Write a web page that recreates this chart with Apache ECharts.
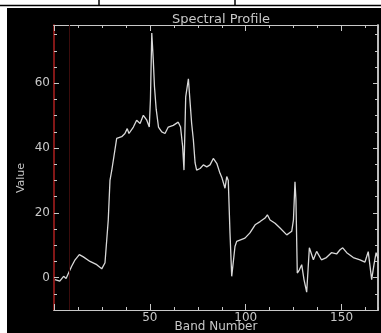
<!DOCTYPE html>
<html>
<head>
<meta charset="utf-8">
<script src="https://cdn.jsdelivr.net/npm/echarts@6/dist/echarts.min.js"></script>
<style>
  html, body { margin: 0; padding: 0; background: #fff; }
  #chart { width: 381px; height: 333px; }
</style>
</head>
<body>
<div id="chart"></div>
<script>
// band number / value pairs
const profile = [
  [0.5, -0.6], [3, -1.1], [5, 0.4], [6.3, -0.3], [9.2, 3.5], [11, 5.5], [13.2, 7.1], [15.3, 6.4],
  [18.8, 5.0], [22.3, 4.0], [24.9, 2.7], [26.6, 4.6], [28.3, 17.8], [29.2, 30], [30.1, 33],
  [32.7, 43], [35.3, 43.5], [37, 44.5], [38.2, 46], [39.1, 44.5], [41.4, 46.5], [43.1, 48.6],
  [44.9, 47.6], [46.6, 50.1], [48.4, 48.6], [49.7, 46.5], [50.3, 55], [51, 75.5], [51.8, 67],
  [52.4, 59], [53.3, 52], [54.5, 46.5], [56.2, 45], [57.9, 44.5], [59.6, 46.5], [62.2, 47],
  [64.8, 48], [66, 46.5], [67.1, 40.5], [67.8, 33.2], [68.7, 55.8], [70.1, 61.4], [70.9, 54.8],
  [71.8, 47.6], [72.7, 42.5], [73.6, 35.4], [74.4, 33.2], [76.2, 33.7], [77.9, 34.8], [79.7, 34.2],
  [81.4, 34.8], [83.1, 36.8], [84.9, 35.3], [86.6, 32.2], [87.6, 30.8], [89.2, 27.6], [90.1, 31.2],
  [90.9, 30], [91.8, 13.8], [92.7, 0.4], [94.4, 9.6], [95.3, 11.2], [99.6, 12.2], [102.2, 13.8],
  [104.9, 16.3], [107.5, 17.3], [110.1, 18.4], [111.3, 19.4], [112.7, 17.8], [115.3, 16.8],
  [117.9, 15.3], [121.4, 13.2], [124, 14.3], [124.9, 17.8], [125.7, 29.6], [126.2, 24],
  [126.9, 1.4], [128, 2.4], [129.2, 4.0], [130.4, -0.6], [131.8, -4.5], [133.2, 9.2], [135.3, 5.5],
  [137, 8.1], [139.5, 5.5], [142.1, 6.2], [144.7, 7.7], [147.4, 7.3], [149.2, 8.6], [150.6, 9.2],
  [152.7, 7.7], [156.1, 6.2], [159.6, 5.5], [162.2, 4.8], [163.9, 8], [164.8, 8.6], [165.7, -0.6],
  [166.9, 4], [168, 7.7], [169, 6]
]
const xMajor = [0, 50, 100, 150]
const xLabels = [50, 100, 150]
const yMajor = [0, 20, 40, 60]
const markerBand = 8

const fg = '#c8c8c8'
const font = 'DejaVu Sans'
const chart = echarts.init(document.getElementById('chart'))

function xAx(pos, interval, len, custom, labels) {
  return {
    type: 'value', position: pos, min: 0, max: 169, interval: interval,
    axisLine: { show: true, onZero: false, lineStyle: { color: fg, width: 1.2 } },
    axisTick: { show: true, inside: true, length: len, customValues: custom, lineStyle: { color: fg } },
    axisLabel: labels ? { show: true, customValues: xLabels, margin: 2, color: fg, fontFamily: font, fontSize: 12 } : { show: false },
    splitLine: { show: false }
  }
}
function yAx(pos, interval, len, custom, labels, lineColor) {
  return {
    type: 'value', position: pos, min: -10, max: 78, interval: interval,
    axisLine: { show: true, onZero: false, lineStyle: { color: lineColor, width: 1.5 } },
    axisTick: { show: true, inside: true, length: len, customValues: custom, lineStyle: { color: fg } },
    axisLabel: labels ? { show: true, customValues: yMajor, margin: 4, color: fg, fontFamily: font, fontSize: 12 } : { show: false },
    splitLine: { show: false }
  }
}

const option = {
  backgroundColor: '#000',
  animation: false,
  title: {
    text: 'Spectral Profile',
    left: 216, top: 8, textAlign: 'center',
    textStyle: { color: fg, fontFamily: font, fontSize: 13, fontWeight: 'normal' }
  },
  grid: { left: 54, right: 3, top: 25, bottom: 23, outerBoundsMode: 'none' },
  xAxis: [
    Object.assign(xAx('bottom', 50, 6, xMajor, true), {
      name: 'Band Number', nameLocation: 'middle', nameGap: 11, nameMoveOverlap: false,
      nameTextStyle: { color: fg, fontFamily: font, fontSize: 12 }
    }),
    xAx('bottom', 12.5, 3, undefined, false),
    xAx('top', 50, 6, xMajor, false),
    xAx('top', 12.5, 3, undefined, false)
  ],
  yAxis: [
    yAx('left', 20, 5, yMajor, true, '#8a1a1a'),
    yAx('left', 5, 3, undefined, false, '#8a1a1a'),
    yAx('right', 20, 5, yMajor, false, fg),
    yAx('right', 5, 3, undefined, false, fg)
  ],
  graphic: [
    { type: 'rect', shape: { x: 0, y: 0, width: 381, height: 8 }, style: { fill: '#fff' } },
    { type: 'rect', shape: { x: 0, y: 0, width: 7, height: 333 }, style: { fill: '#fff' } },
    { type: 'line', shape: { x1: 0, y1: 5.5, x2: 381, y2: 5.5 }, style: { stroke: '#000', lineWidth: 1.5 } },
    { type: 'line', shape: { x1: 99, y1: 0, x2: 99, y2: 5 }, style: { stroke: '#000', lineWidth: 1.5 } },
    { type: 'line', shape: { x1: 235, y1: 0, x2: 235, y2: 5 }, style: { stroke: '#000', lineWidth: 1.5 } },
    {
      type: 'text', x: 21, y: 178, rotation: Math.PI / 2,
      style: { text: 'Value', fill: fg, font: '11px "DejaVu Sans"', align: 'center', verticalAlign: 'middle' }
    }
  ],
  series: [{
    type: 'line',
    data: profile,
    showSymbol: false,
    lineStyle: { color: '#d8d8d8', width: 1.3 },
    markLine: {
      silent: true, symbol: 'none', label: { show: false },
      lineStyle: { color: '#3a0c0c', type: 'solid', width: 1 },
      data: [{ xAxis: markerBand }]
    }
  }]
}
chart.setOption(option)
</script>
</body>
</html>
